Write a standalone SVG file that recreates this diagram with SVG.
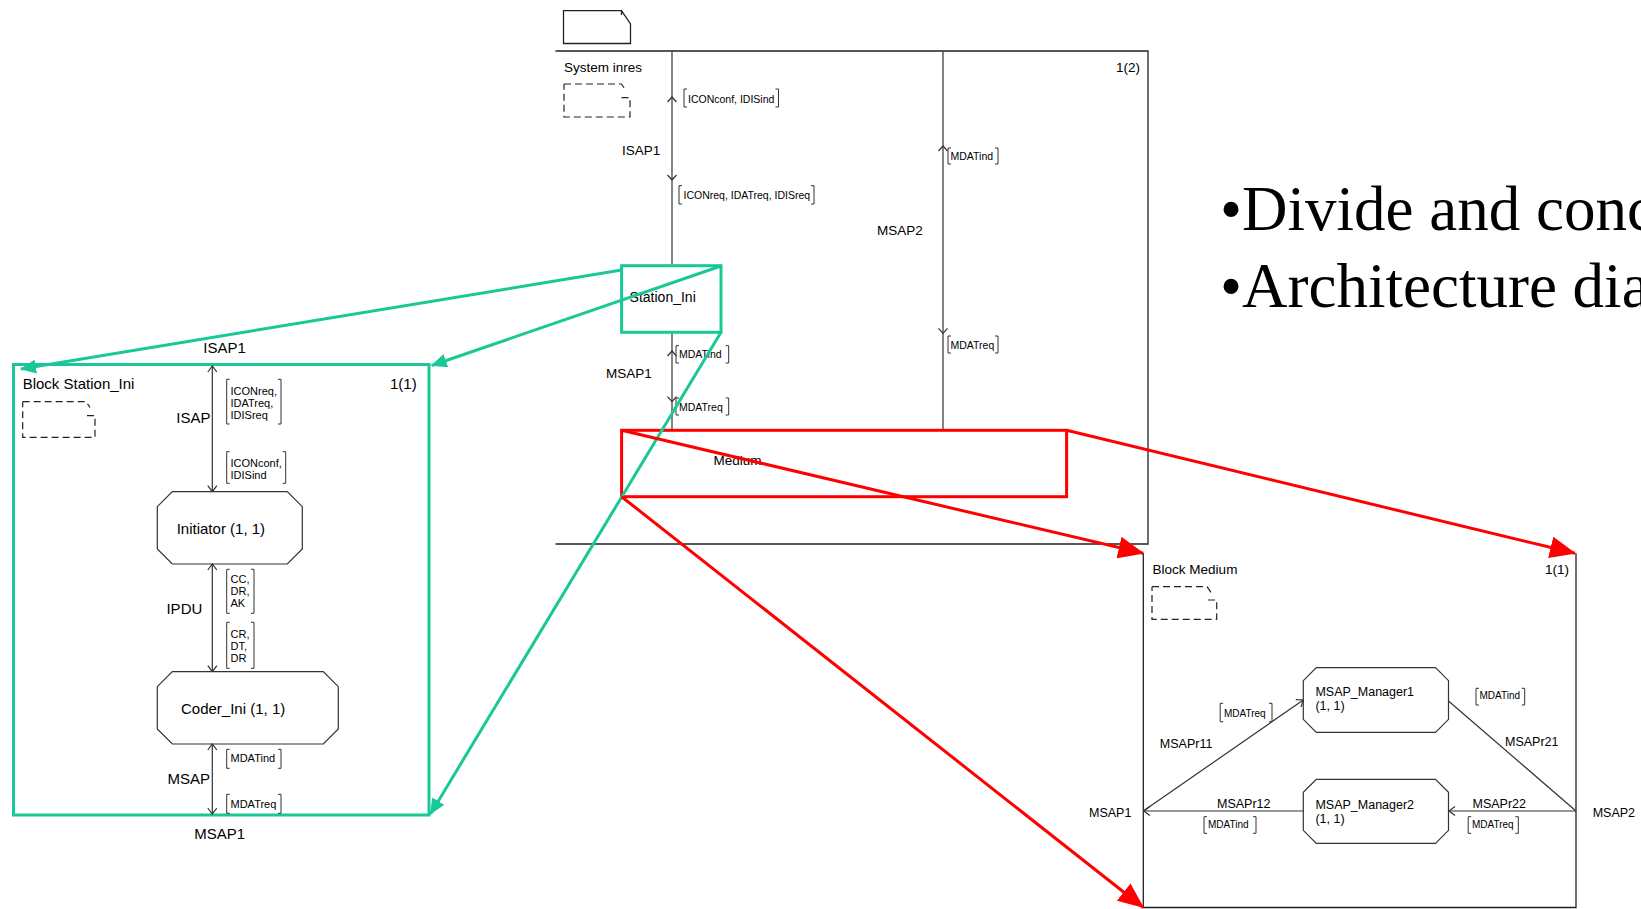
<svg xmlns="http://www.w3.org/2000/svg" width="1641" height="909" viewBox="0 0 1641 909">
<style>
.ln{fill:none;stroke:#333;stroke-width:1.2}
.fr{fill:none;stroke:#222;stroke-width:1.3}
.ds{fill:none;stroke:#222;stroke-width:1.2;stroke-dasharray:7 4}
.br{fill:none;stroke:#333;stroke-width:1}
.oct{fill:#fff;stroke:#333;stroke-width:1.2}
.g{fill:none;stroke:#19C896;stroke-width:3}
.r{fill:none;stroke:#FF0000;stroke-width:3}
text{font-family:"Liberation Sans",Arial,sans-serif;fill:#000}
.t13{font-size:13.5px}
.t15{font-size:15px}
.t125{font-size:12.5px}
.s10{font-size:10.5px}
.s11{font-size:11px}
.s9{font-size:10px}
.big{font-family:"Liberation Serif","Times New Roman",serif;font-size:63px}
</style>
<defs>
<marker id="oa" viewBox="0 0 10 10" refX="9" refY="5" markerWidth="10" markerHeight="10" markerUnits="userSpaceOnUse" orient="auto-start-reverse">
<path d="M3,0.5 L9,5 L3,9.5" fill="none" stroke="#333" stroke-width="1.2"/>
</marker>
<marker id="ga" viewBox="0 0 16 14" refX="15" refY="7" markerWidth="16" markerHeight="14" markerUnits="userSpaceOnUse" orient="auto">
<path d="M0,0 L16,7 L0,14 Z" fill="#19C896"/>
</marker>
<marker id="ra" viewBox="0 0 26 22" refX="25" refY="11" markerWidth="26" markerHeight="22" markerUnits="userSpaceOnUse" orient="auto">
<path d="M0,0 L26,11 L0,22 Z" fill="#FF0000"/>
</marker>
</defs>

<!-- Bullet text -->
<g id="bullets">
<text class="big" x="1220" y="230">•Divide and conc</text>
<text class="big" x="1220" y="306.7">•Architecture dia</text>
</g>

<!-- System inres diagram -->
<g id="system-inres">
<path class="fr" d="M563.5,10.7 H621.5 L630.5,24 V43.5 H563.5 Z M621.5,10.7 V15"/>
<path class="fr" d="M555.5,51 H1148 V544 H555.5"/>
<text class="t13" x="564" y="72">System inres</text>
<text class="t13" x="1140" y="72" text-anchor="end">1(2)</text>
<path class="ds" d="M564,84 H621.5 L625.5,90 M621.5,97.7 H630 V117 H564 V84"/>
</g>

<g id="channel-ISAP1">
<path class="ln" d="M672,51 V265.7"/>
<path class="ln" d="M667.5,102 L672,97 L676.5,102 M667.5,175 L672,180 L676.5,175"/>
<text class="t13" x="622" y="155">ISAP1</text>
<path class="br" d="M687,89 H684 V107 H687 M775.5,89 H778.5 V107 H775.5"/>
<text class="s10" x="688" y="102.5">ICONconf, IDISind</text>
<path class="br" d="M682,185.7 H679 V204 H682 M811,185.7 H814 V204 H811"/>
<text class="s10" x="683.5" y="198.5">ICONreq, IDATreq, IDISreq</text>
</g>

<g id="channel-MSAP2">
<path class="ln" d="M943,51 V430.3"/>
<path class="ln" d="M938.5,151 L943,146 L947.5,151 M938.5,328.3 L943,333.3 L947.5,328.3"/>
<text class="t13" x="877" y="235">MSAP2</text>
<path class="br" d="M951,148 H948 V164 H951 M995,148 H998 V164 H995"/>
<text class="s10" x="950.5" y="160">MDATind</text>
<path class="br" d="M951,336 H948 V353 H951 M995,336 H998 V353 H995"/>
<text class="s10" x="950.5" y="349">MDATreq</text>
</g>

<g id="channel-MSAP1">
<path class="ln" d="M672,332.3 V430.3"/>
<path class="ln" d="M667.5,356 L672,351 L676.5,356 M667.5,396.7 L672,401.7 L676.5,396.7"/>
<text class="t13" x="606" y="377.7">MSAP1</text>
<path class="br" d="M679,345.7 H676 V363 H679 M725.7,345.7 H728.7 V363 H725.7"/>
<text class="s10" x="679" y="358.3">MDATind</text>
<path class="br" d="M679,398 H676 V415 H679 M725.7,398 H728.7 V415 H725.7"/>
<text class="s10" x="679" y="410.7">MDATreq</text>
</g>

<g id="node-Station_Ini">
<rect x="621.6" y="265.7" width="99.4" height="66.6" fill="none" stroke="#19C896" stroke-width="3"/>
<text class="t13" x="629.6" y="301.7" style="font-size:14px">Station_Ini</text>
</g>

<g id="node-Medium">
<rect x="621.6" y="430.3" width="445" height="66.4" fill="none" stroke="#FF0000" stroke-width="3"/>
<text class="t13" x="713.4" y="465">Medium</text>
</g>

<!-- Block Station_Ini -->
<g id="block-Station_Ini">
<rect x="13.5" y="364.5" width="415.5" height="450.5" fill="none" stroke="#19C896" stroke-width="3"/>
<text class="t15" x="22.7" y="389.3">Block Station_Ini</text>
<text class="t15" x="416.7" y="389.3" text-anchor="end">1(1)</text>
<path class="ds" d="M22.7,401.7 H86 L90,407.5 M87,415.7 H95 V437.3 H22.7 V401.7"/>
<text class="t15" x="203.3" y="353.3">ISAP1</text>
<text class="t15" x="194.3" y="839.3">MSAP1</text>
</g>

<g id="channel-ISAP">
<path class="ln" d="M212.3,366 V491.7" marker-start="url(#oa)" marker-end="url(#oa)"/>
<text class="t15" x="210.5" y="423.3" text-anchor="end">ISAP</text>
<path class="br" d="M229.7,379.3 H226.7 V424 H229.7 M278,379.3 H281 V424 H278"/>
<text class="s11" x="230.5" y="395">ICONreq,</text>
<text class="s11" x="230.5" y="407">IDATreq,</text>
<text class="s11" x="230.5" y="419">IDISreq</text>
<path class="br" d="M229.7,451.7 H226.7 V483.3 H229.7 M282.7,451.7 H285.7 V483.3 H282.7"/>
<text class="s11" x="230.5" y="467">ICONconf,</text>
<text class="s11" x="230.5" y="478.5">IDISind</text>
</g>

<g id="node-Initiator">
<path class="oct" d="M172.3,491.7 H287.3 L302.3,506.7 V549 L287.3,564 H172.3 L157.3,549 V506.7 Z"/>
<text class="t15" x="176.7" y="534">Initiator (1, 1)</text>
</g>

<g id="channel-IPDU">
<path class="ln" d="M212.3,564 V671.7" marker-start="url(#oa)" marker-end="url(#oa)"/>
<text class="t15" x="202.3" y="614" text-anchor="end">IPDU</text>
<path class="br" d="M229.7,569.3 H226.7 V613.3 H229.7 M251,569.3 H254 V613.3 H251"/>
<text class="s11" x="230.5" y="583.3">CC,</text>
<text class="s11" x="230.5" y="595">DR,</text>
<text class="s11" x="230.5" y="606.7">AK</text>
<path class="br" d="M229.7,622.3 H226.7 V668.3 H229.7 M251,622.3 H254 V668.3 H251"/>
<text class="s11" x="230.5" y="638.3">CR,</text>
<text class="s11" x="230.5" y="650">DT,</text>
<text class="s11" x="230.5" y="661.7">DR</text>
</g>

<g id="node-Coder_Ini">
<path class="oct" d="M172.3,671.7 H323.3 L338.3,686.7 V729 L323.3,744 H172.3 L157.3,729 V686.7 Z"/>
<text class="t15" x="181" y="714">Coder_Ini (1, 1)</text>
</g>

<g id="channel-MSAP">
<path class="ln" d="M212.3,744 V814" marker-start="url(#oa)" marker-end="url(#oa)"/>
<text class="t15" x="210" y="784" text-anchor="end">MSAP</text>
<path class="br" d="M229.7,749.3 H226.7 V768.3 H229.7 M278,749.3 H281 V768.3 H278"/>
<text class="s11" x="230.5" y="762.3">MDATind</text>
<path class="br" d="M229.7,794.3 H226.7 V813.3 H229.7 M278,794.3 H281 V813.3 H278"/>
<text class="s11" x="230.5" y="808.3">MDATreq</text>
</g>

<!-- Block Medium -->
<g id="block-Medium">
<path class="fr" d="M1143.3,553.3 V907.5 H1576 V553.3"/>
<text class="t13" x="1152.6" y="574.3">Block Medium</text>
<text class="t13" x="1569" y="574.3" text-anchor="end">1(1)</text>
<path class="ds" d="M1152,586.7 H1207 L1211,592.5 M1208,600 H1216.7 V619.3 H1152 V586.7"/>
<text class="t125" x="1089" y="816.7">MSAP1</text>
<text class="t125" x="1592.7" y="816.7">MSAP2</text>
</g>

<g id="node-MSAP_Manager1">
<path class="oct" d="M1316.3,667.7 H1435.5 L1448.5,680.7 V719.3 L1435.5,732.3 H1316.3 L1303.3,719.3 V680.7 Z"/>
<text class="t125" x="1315.4" y="696">MSAP_Manager1</text>
<text class="t125" x="1315.4" y="710">(1, 1)</text>
</g>

<g id="node-MSAP_Manager2">
<path class="oct" d="M1316.3,779.3 H1435.5 L1448.5,792.3 V830.3 L1435.5,843.3 H1316.3 L1303.3,830.3 V792.3 Z"/>
<text class="t125" x="1315.4" y="809.3">MSAP_Manager2</text>
<text class="t125" x="1315.4" y="823.3">(1, 1)</text>
</g>

<g id="route-MSAPr11">
<path class="ln" d="M1143.3,811 L1303.3,700" marker-end="url(#oa)"/>
<text class="t125" x="1159.8" y="748.3">MSAPr11</text>
<path class="br" d="M1223.2,703.3 H1220.2 V721.7 H1223.2 M1269,703.3 H1272 V721.7 H1269"/>
<text class="s9" x="1224" y="716.7">MDATreq</text>
</g>

<g id="route-MSAPr12">
<path class="ln" d="M1303.3,811 H1143.8" marker-end="url(#oa)"/>
<text class="t125" x="1217" y="808.3">MSAPr12</text>
<path class="br" d="M1207,816.7 H1204 V833.3 H1207 M1253,816.7 H1256 V833.3 H1253"/>
<text class="s9" x="1208" y="828.3">MDATind</text>
</g>

<g id="route-MSAPr21">
<path class="ln" d="M1448.5,701 L1576,811"/>
<text class="t125" x="1505" y="746">MSAPr21</text>
<path class="br" d="M1479,688.3 H1476 V705 H1479 M1521.7,688.3 H1524.7 V705 H1521.7"/>
<text class="s9" x="1479.5" y="699.3">MDATind</text>
</g>

<g id="route-MSAPr22">
<path class="ln" d="M1576,811 H1449" marker-end="url(#oa)"/>
<text class="t125" x="1472.5" y="808.3">MSAPr22</text>
<path class="br" d="M1471.2,816.7 H1468.2 V833.3 H1471.2 M1515.3,816.7 H1518.3 V833.3 H1515.3"/>
<text class="s9" x="1472" y="828.3">MDATreq</text>
</g>

<!-- Zoom connectors -->
<g id="connectors">
<path class="g" d="M621.6,270 L21,369" marker-end="url(#ga)"/>
<path class="g" d="M721,266 L431.7,365.5" marker-end="url(#ga)"/>
<path class="g" d="M721,332.3 L430.5,814" marker-end="url(#ga)"/>
<path class="r" d="M621.6,430.3 L1143.3,553.3" marker-end="url(#ra)"/>
<path class="r" d="M1066.6,430.3 L1575,553.3" marker-end="url(#ra)"/>
<path class="r" d="M621.6,496.7 L1143.3,907.5" marker-end="url(#ra)"/>
</g>
</svg>
